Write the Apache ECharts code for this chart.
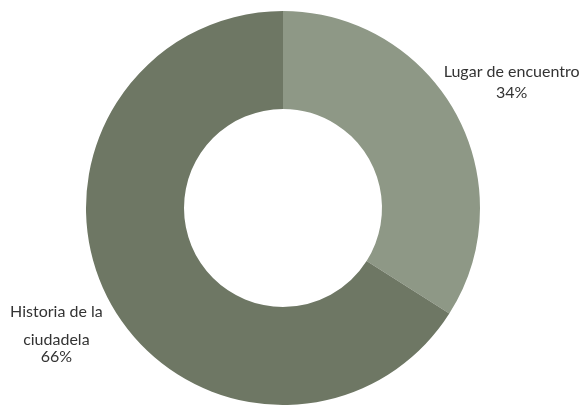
<!DOCTYPE html>
<html>
<head>
<meta charset="utf-8">
<script src="https://cdn.jsdelivr.net/npm/echarts@6/dist/echarts.min.js"></script>
<style>html,body{margin:0;padding:0;background:#fff}#c{width:585px;height:405px}</style>
</head>
<body>
<div id="c"></div>
<script>
const categories = ['Lugar de encuentro', 'Historia de la ciudadela'];
const labelLines = [['Lugar de encuentro'], ['Historia de la', 'ciudadela']];
const values = [34, 66];
const colors = ['#8e9886', '#6e7764'];

const chart = echarts.init(document.getElementById('c'));
chart.setOption({
  animation: false,
  series: [{
    type: 'pie',
    center: [283, 208],
    radius: [99, 197],
    startAngle: 90,
    clockwise: true,
    data: categories.map((n, i) => ({ name: n, value: values[i], itemStyle: { color: colors[i] } })),
    label: {
      show: true,
      position: 'outside',
      distanceToLabelLine: 0,
      overflow: 'none',
      edgeDistance: 0,
      fontFamily: 'Lato',
      fontSize: 16,
      color: '#333',
      formatter: function (p) {
        const lines = labelLines[p.dataIndex];
        if (lines.length === 1) {
          return '{a|' + lines[0] + '}\n{a|' + p.value + '%}';
        }
        return '{h|' + lines[0] + '}\n{b|' + lines[1] + '}\n{b|' + p.value + '%}';
      },
      rich: {
        a: { fontFamily: 'Lato', fontSize: 16, color: '#333', lineHeight: 21, align: 'center' },
        h: { fontFamily: 'Lato', fontSize: 16, color: '#333', lineHeight: 38, align: 'center' },
        b: { fontFamily: 'Lato', fontSize: 16, color: '#333', lineHeight: 17, align: 'center' }
      }
    },
    labelLine: { show: false, length: 0, length2: 0 },
    labelLayout: function (p) {
      return p.dataIndex === 0
        ? { dx: 56, dy: -31, align: 'center', width: 160 }
        : { dx: -54, dy: 26, align: 'center', width: 120 };
    }
  }]
});
</script>
</body>
</html>
